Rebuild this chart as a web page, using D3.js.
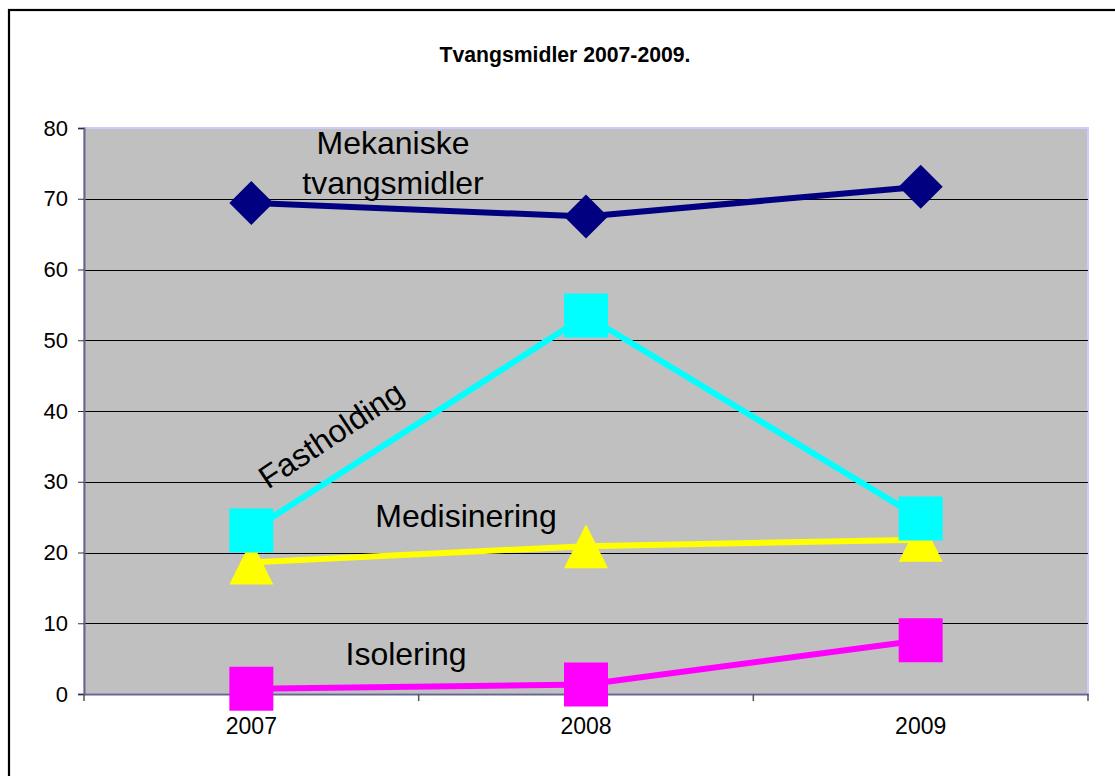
<!DOCTYPE html>
<html><head><meta charset="utf-8">
<script src="https://cdn.jsdelivr.net/npm/d3@7"></script>
<style>body{margin:0;background:#fff}svg{display:block}text{font-family:"Liberation Sans",Arial,sans-serif}</style>
</head><body>
<svg id="c" width="1115" height="776"></svg>
<script>
const title = "Tvangsmidler 2007-2009.";
const categories = ["2007", "2008", "2009"];
const yTicks = [0, 10, 20, 30, 40, 50, 60, 70, 80];
const seriesNames = ["Mekaniske tvangsmidler", "Fastholding", "Medisinering", "Isolering"];
const mekaniske = [69.4, 67.5, 71.7];
const fastholding = [23.1, 53.5, 24.8];
const medisinering = [18.6, 20.9, 21.8];
const isolering = [0.75, 1.35, 7.6];

const svg = d3.select("#c");
const L = 84, R = 1088, T = 128, B = 694;
const x = d3.scaleBand().domain(categories).range([L, R]);
const cx = c => x(c) + x.bandwidth() / 2;
const y = d3.scaleLinear().domain([0, 80]).range([B, T]);

// outer border
svg.append("rect").attr("x", 9).attr("y", 10).attr("width", 1130).attr("height", 800)
  .attr("fill", "#fff").attr("stroke", "#000").attr("stroke-width", 2.2);

// title
svg.append("text").attr("x", 565).attr("y", 62).attr("text-anchor", "middle")
  .attr("font-size", 21.2).attr("font-weight", "bold").text(title);

// plot area
svg.append("rect").attr("x", L).attr("y", T).attr("width", R - L).attr("height", B - T)
  .attr("fill", "#c0c0c0").attr("stroke", "#ccccff").attr("stroke-width", 2);

// gridlines
svg.append("g").selectAll("line").data(yTicks.filter(t => t > 0 && t < 80)).join("line")
  .attr("x1", L).attr("x2", R).attr("y1", d => Math.round(y(d)) + 0.5).attr("y2", d => Math.round(y(d)) + 0.5)
  .attr("stroke", "#000").attr("stroke-width", 1);

// y axis
const yAxis = svg.append("g").attr("transform", `translate(${L},0)`)
  .call(d3.axisLeft(y).tickValues(yTicks).tickSize(6).tickPadding(10));
yAxis.select(".domain").attr("stroke", "#666688").attr("stroke-width", 2);
yAxis.selectAll(".tick line").attr("stroke", "#333");
yAxis.selectAll("text").attr("font-size", 22).attr("fill", "#000")
  .attr("font-family", '"Liberation Sans",Arial,sans-serif');

// x axis
const xAxis = svg.append("g").attr("transform", `translate(0,${B})`)
  .call(d3.axisBottom(x).tickSize(0).tickPadding(24));
xAxis.select(".domain").attr("stroke", "#666688").attr("stroke-width", 2);
xAxis.selectAll("text").attr("font-size", 23).attr("fill", "#000")
  .attr("font-family", '"Liberation Sans",Arial,sans-serif');
const bounds = [L].concat(categories.map(c => x(c) + x.bandwidth()));
svg.append("g").selectAll("line").data(bounds).join("line")
  .attr("x1", d => d).attr("x2", d => d).attr("y1", B).attr("y2", B + 7)
  .attr("stroke", "#555").attr("stroke-width", 1.5);

const series = [
  {name: seriesNames[3], values: isolering, color: "#ff00ff", shape: "square"},
  {name: seriesNames[2], values: medisinering, color: "#ffff00", shape: "triangle"},
  {name: seriesNames[1], values: fastholding, color: "#00ffff", shape: "square"},
  {name: seriesNames[0], values: mekaniske, color: "#000080", shape: "diamond"}
];

const line = d3.line().x((d, i) => cx(categories[i])).y(d => y(d));
const g = svg.append("g");
series.forEach(s => {
  g.append("path").datum(s.values).attr("d", line).attr("fill", "none")
    .attr("stroke", s.color).attr("stroke-width", 6).attr("stroke-linejoin", "round");
});
series.forEach(s => {
  s.values.forEach((v, i) => {
    const px = cx(categories[i]), py = y(v);
    let p;
    if (s.shape === "square") p = `M${px-22},${py-22}h44v44h-44Z`;
    else if (s.shape === "diamond") p = `M${px},${py-22}L${px+22},${py}L${px},${py+22}L${px-22},${py}Z`;
    else p = `M${px},${py-22}L${px+22},${py+22}L${px-22},${py+22}Z`;
    g.append("path").attr("d", p).attr("fill", s.color);
  });
});

// series labels
const lab = svg.append("g").attr("font-size", 32).attr("fill", "#000").attr("text-anchor", "middle");
lab.append("text").attr("x", 393).attr("y", 154).text("Mekaniske");
lab.append("text").attr("x", 393).attr("y", 194).text("tvangsmidler");
lab.append("text").attr("transform", "translate(337,444) rotate(-33.5)").text(seriesNames[1]);
lab.append("text").attr("x", 466).attr("y", 527).text(seriesNames[2]);
lab.append("text").attr("x", 406).attr("y", 665).text(seriesNames[3]);
</script>
</body></html>
